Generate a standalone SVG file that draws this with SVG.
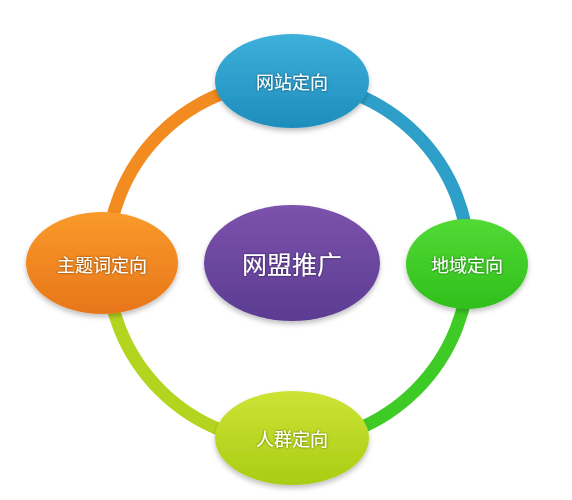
<svg xmlns="http://www.w3.org/2000/svg" width="572" height="500" viewBox="0 0 572 500">
<defs>
<style>
.ring{fill:none;stroke-width:13;stroke-linecap:butt}
.lbl{font-family:"Noto Sans CJK SC","Noto Sans",sans-serif;fill:#ffffff;text-anchor:middle;dominant-baseline:central;filter:url(#ts)}
.sm{font-size:18px}
.lg{font-size:25px}
.node{filter:url(#ds)}
</style>
<filter id="ds" x="-20%" y="-20%" width="140%" height="150%">
<feDropShadow dx="0" dy="3" stdDeviation="2.5" flood-color="#000" flood-opacity="0.25"/>
</filter>
<filter id="ts" x="-10%" y="-30%" width="120%" height="160%">
<feDropShadow dx="0" dy="0" stdDeviation="0.8" flood-color="#000" flood-opacity="0.6"/>
</filter>
<linearGradient id="gBlue" x1="0" y1="0" x2="0" y2="1"><stop offset="0" stop-color="#3db0da"/><stop offset="1" stop-color="#1e8dbd"/></linearGradient>
<linearGradient id="gOrange" x1="0" y1="0" x2="0" y2="1"><stop offset="0" stop-color="#f99a2a"/><stop offset="1" stop-color="#e8761a"/></linearGradient>
<linearGradient id="gGreen" x1="0" y1="0" x2="0" y2="1"><stop offset="0" stop-color="#52da34"/><stop offset="1" stop-color="#2fbf1c"/></linearGradient>
<linearGradient id="gLime" x1="0" y1="0" x2="0" y2="1"><stop offset="0" stop-color="#cde335"/><stop offset="1" stop-color="#a9cc14"/></linearGradient>
<linearGradient id="gPurple" x1="0" y1="0" x2="0" y2="1"><stop offset="0" stop-color="#7c52ac"/><stop offset="1" stop-color="#5c3c92"/></linearGradient>
</defs>
<rect width="572" height="500" fill="#ffffff"/>
<g id="connectors">
<path class="ring" stroke="#f28c20" d="M 107 262 A 181 181 0 0 1 288 81"/>
<path class="ring" stroke="#2e9fc8" d="M 288 81 A 181 181 0 0 1 469 262"/>
<path class="ring" stroke="#3fcb25" d="M 469 262 A 181 181 0 0 1 288 443"/>
<path class="ring" stroke="#b4d520" d="M 288 443 A 181 181 0 0 1 107 262"/>
</g>
<g id="node-top" class="node">
<ellipse cx="292" cy="81" rx="77" ry="47" fill="url(#gBlue)"/>
<text class="lbl sm" x="292" y="81">网站定向</text>
</g>
<g id="node-left" class="node">
<ellipse cx="102" cy="263" rx="76" ry="51" fill="url(#gOrange)"/>
<text class="lbl sm" x="102" y="264">主题词定向</text>
</g>
<g id="node-right" class="node">
<ellipse cx="467" cy="264" rx="61" ry="45" fill="url(#gGreen)"/>
<text class="lbl sm" x="467" y="264">地域定向</text>
</g>
<g id="node-bottom" class="node">
<ellipse cx="292" cy="438" rx="77" ry="47" fill="url(#gLime)"/>
<text class="lbl sm" x="292" y="438">人群定向</text>
</g>
<g id="node-center" class="node">
<ellipse cx="292" cy="263" rx="88" ry="58" fill="url(#gPurple)"/>
<text class="lbl lg" x="292" y="263">网盟推广</text>
</g>
</svg>
